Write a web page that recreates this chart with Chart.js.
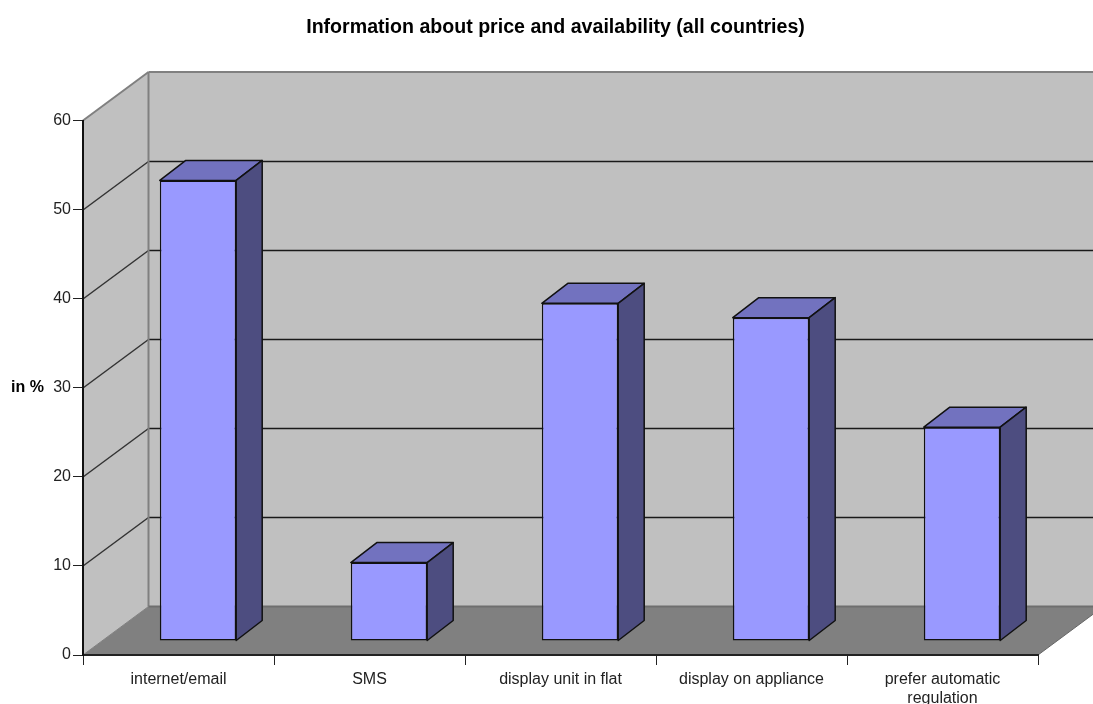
<!DOCTYPE html>
<html>
<head>
<meta charset="utf-8">
<title>Information about price and availability</title>
<script src="https://cdn.jsdelivr.net/npm/chart.js@4"></script>
<style>
  html, body { margin: 0; padding: 0; background: #fff; overflow: hidden; }
  #wrap { width: 1093px; height: 704px; }
</style>
</head>
<body>
<div id="wrap"><canvas id="chart"></canvas></div>
<script>
const categories = [
  "internet/email",
  "SMS",
  "display unit in flat",
  "display on appliance",
  ["prefer automatic", "regulation"]
];
const shares = [51.7, 8.8, 37.9, 36.3, 24];
const chartTitle = "Information about price and availability (all countries)";
const axisLabel = "in %";

const FONT = "'Liberation Sans', Arial, sans-serif";

// offset of the back wall from the front plane
const WALL_DX = 65.5, WALL_DY = -48.5;
// how far the bars sit behind the front plane, and how deep each bar is
const BAR_DX = 19.5, BAR_DY = -14;
const DEPTH_DX = 26, DEPTH_DY = -20;

function poly(ctx, pts, fill, stroke, lw) {
  ctx.beginPath();
  pts.forEach((p, i) => i ? ctx.lineTo(p[0], p[1]) : ctx.moveTo(p[0], p[1]));
  ctx.closePath();
  if (fill) { ctx.fillStyle = fill; ctx.fill(); }
  if (stroke) { ctx.strokeStyle = stroke; ctx.lineWidth = lw; ctx.stroke(); }
}

function seg(ctx, x1, y1, x2, y2, color, lw) {
  ctx.beginPath();
  ctx.moveTo(x1, y1);
  ctx.lineTo(x2, y2);
  ctx.strokeStyle = color;
  ctx.lineWidth = lw;
  ctx.stroke();
}

// walls, floor and wall grid lines, all hung off the y scale
const box3d = {
  id: "box3d",
  beforeDraw(chart) {
    const { ctx, chartArea: a, scales } = chart;
    const y = scales.y;
    const bx = a.left + WALL_DX, by = WALL_DY;
    ctx.save();
    // back wall runs off the right edge of the canvas
    poly(ctx, [[bx, a.top + by], [1093, a.top + by], [1093, a.bottom + by], [bx, a.bottom + by]], "#c0c0c0");
    poly(ctx, [[a.left, a.top], [bx, a.top + by], [bx, a.bottom + by], [a.left, a.bottom]], "#c0c0c0");
    poly(ctx, [[a.left, a.bottom], [bx, a.bottom + by], [a.right + WALL_DX, a.bottom + by], [a.right, a.bottom]], "#808080");

    y.ticks.forEach(t => {
      if (t.value === y.min || t.value === y.max) return;
      const py = Math.round(y.getPixelForValue(t.value));
      seg(ctx, a.left, py, bx, py + by, "#333333", 1.5);
      seg(ctx, bx, py + by, 1093, py + by, "#1a1a1a", 1.3);
    });

    // wall edges
    seg(ctx, a.left, a.top, bx, a.top + by, "#808080", 2);
    seg(ctx, bx, a.top + by, 1093, a.top + by, "#808080", 2);
    seg(ctx, bx, a.top + by, bx, a.bottom + by, "#808080", 2);
    seg(ctx, a.left, a.bottom, bx, a.bottom + by, "#808080", 1);
    seg(ctx, bx, a.bottom + by, 1093, a.bottom + by, "#6e6e6e", 2);
    seg(ctx, a.right, a.bottom, a.right + WALL_DX, a.bottom + by, "#666666", 1);
    ctx.restore();

    // title and the horizontal axis caption
    ctx.save();
    ctx.fillStyle = "#000";
    ctx.textBaseline = "middle";
    ctx.font = "bold 19.6px " + FONT;
    ctx.textAlign = "center";
    ctx.fillText(chartTitle, 555.5, 28);
    ctx.font = "bold 16px " + FONT;
    ctx.textAlign = "left";
    ctx.fillText(axisLabel, 11, 388);
    ctx.restore();
  },
  // bars are pushed back onto the floor, then get their top and side faces
  beforeDatasetsDraw(chart) {
    chart.ctx.save();
    chart.ctx.translate(BAR_DX, BAR_DY);
  },
  afterDatasetsDraw(chart) {
    const ctx = chart.ctx;
    chart.getDatasetMeta(0).data.forEach(bar => {
      const l = bar.x - bar.width / 2, r = bar.x + bar.width / 2;
      const t = bar.y, b = bar.base;
      ctx.lineJoin = "round";
      poly(ctx, [[l, t], [l + DEPTH_DX, t + DEPTH_DY], [r + DEPTH_DX, t + DEPTH_DY], [r, t]], "#7272bf", "#111", 1.5);
      poly(ctx, [[r, t], [r + DEPTH_DX, t + DEPTH_DY], [r + DEPTH_DX, b + DEPTH_DY], [r, b]], "#4d4d80", "#111", 1.5);
    });
    ctx.restore();
  }
};

new Chart(document.getElementById("chart"), {
  type: "bar",
  plugins: [box3d],
  data: {
    labels: categories,
    datasets: [{
      data: shares,
      backgroundColor: "#9999ff",
      borderColor: "#111",
      borderWidth: 1.5,
      borderSkipped: false,
      barPercentage: 0.4,
      categoryPercentage: 1
    }]
  },
  options: {
    responsive: true,
    maintainAspectRatio: false,
    animation: false,
    layout: { padding: { left: 20, right: 55, top: 120.5, bottom: 0 } },
    plugins: {
      legend: { display: false },
      tooltip: { enabled: false },
      title: { display: false }
    },
    scales: {
      x: {
        afterFit(scale) { scale.height = 49; },
        border: { color: "#222", width: 2 },
        grid: { drawOnChartArea: false, drawTicks: true, tickLength: 10, color: "#222" },
        ticks: {
          color: "#222",
          maxRotation: 0,
          autoSkip: false,
          padding: 5,
          font: { family: FONT, size: 16, lineHeight: "19px" }
        }
      },
      y: {
        min: 0,
        max: 60,
        afterFit(scale) { scale.width = 63; },
        border: { color: "#111", width: 2 },
        grid: { drawOnChartArea: false, drawTicks: true, tickLength: 10, color: "#222" },
        ticks: {
          stepSize: 10,
          color: "#222",
          padding: 2,
          font: { family: FONT, size: 16 }
        }
      }
    }
  }
});
</script>
</body>
</html>
